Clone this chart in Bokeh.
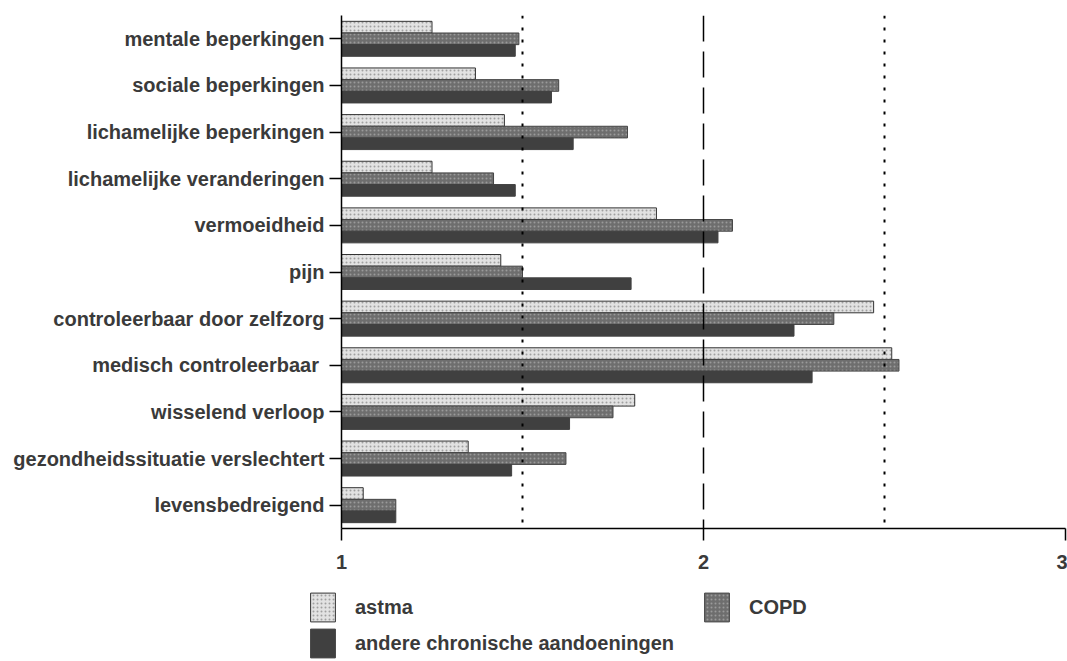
from bokeh.plotting import figure
from bokeh.layouts import column
from bokeh.models import FactorRange, Range1d, Span, Legend, LegendItem, FixedTicker, ColumnDataSource
from bokeh.transform import dodge
from bokeh.embed import file_html
from bokeh.resources import INLINE

categories = [
    "mentale beperkingen",
    "sociale beperkingen",
    "lichamelijke beperkingen",
    "lichamelijke veranderingen",
    "vermoeidheid",
    "pijn",
    "controleerbaar door zelfzorg",
    "medisch controleerbaar ",
    "wisselend verloop",
    "gezondheidssituatie verslechtert",
    "levensbedreigend",
]
astma = [1.25, 1.37, 1.45, 1.25, 1.87, 1.44, 2.47, 2.52, 1.81, 1.35, 1.06]
copd = [1.49, 1.60, 1.79, 1.42, 2.08, 1.50, 2.36, 2.54, 1.75, 1.62, 1.15]
andere = [1.48, 1.58, 1.64, 1.48, 2.04, 1.80, 2.25, 2.30, 1.63, 1.47, 1.15]
series_names = ["astma", "COPD", "andere chronische aandoeningen"]
x_ticks = [1, 2, 3]
ref_dotted = [1.5, 2.5]
ref_dashed = [2]

FONT = "Liberation Sans Narrow, Liberation Sans, Arial, sans-serif"
TXT = "#3a3a3a"

STY = {
    "astma": dict(fill_color="#e2e2e2", line_color="#333333", line_width=1,
                  hatch_pattern="dot", hatch_color="#a0a0a0", hatch_scale=4, hatch_weight=1),
    "COPD": dict(fill_color="#6e6e6e", line_color="#444444", line_width=1,
                 hatch_pattern="dot", hatch_color="#9a9a9a", hatch_scale=4, hatch_weight=1),
    "andere": dict(fill_color="#404040", line_color="#404040", line_width=1),
}

src = ColumnDataSource(dict(cat=categories, astma=astma, copd=copd, andere=andere,
                            base=[1] * len(categories)))

p = figure(width=1067, height=585, output_backend="svg", toolbar_location=None,
           y_range=FactorRange(factors=list(reversed(categories)), range_padding=0),
           x_range=Range1d(1, 3),
           min_border_left=341, min_border_right=2, min_border_top=15, min_border_bottom=57)
p.frame_align = False
p.outline_line_color = None
p.xgrid.visible = False
p.ygrid.visible = False
p.background_fill_color = "white"
p.border_fill_color = "white"

p.hbar(y=dodge("cat", 0.25, range=p.y_range), left="base", right="astma", height=0.25,
       source=src, **STY["astma"])
p.hbar(y=dodge("cat", 0.0, range=p.y_range), left="base", right="copd", height=0.25,
       source=src, **STY["COPD"])
p.hbar(y=dodge("cat", -0.25, range=p.y_range), left="base", right="andere", height=0.25,
       source=src, **STY["andere"])

for v in ref_dotted:
    p.add_layout(Span(location=v, dimension="height", line_color="black", line_width=2,
                      line_dash="3 9"))
for v in ref_dashed:
    p.add_layout(Span(location=v, dimension="height", line_color="black", line_width=1.5,
                      line_dash="26 10"))

for ax in (p.xaxis[0], p.yaxis[0]):
    ax.axis_line_color = "black"
    ax.axis_line_width = 1.5
    ax.major_tick_line_color = "black"
    ax.major_tick_line_width = 1.5
    ax.minor_tick_line_color = None
    ax.major_tick_in = 0
    ax.major_label_text_font = FONT
    ax.major_label_text_font_style = "bold"
    ax.major_label_text_font_size = "20px"
    ax.major_label_text_color = TXT

p.xaxis.ticker = FixedTicker(ticks=x_ticks)
p.xaxis.major_tick_out = 12
p.xaxis.major_label_standoff = 14
p.yaxis.major_tick_out = 12
p.yaxis.major_label_standoff = 5

# legend strip (its own small figure, frame covering the whole strip)
q = figure(width=1067, height=76, output_backend="svg", toolbar_location=None,
           x_range=Range1d(0, 1), y_range=Range1d(0, 1),
           min_border=0, min_border_left=0, min_border_right=0, min_border_top=0, min_border_bottom=0)
q.frame_align = False
q.axis.visible = False
q.grid.visible = False
q.outline_line_color = None
q.border_fill_color = "white"
q.background_fill_color = "white"
# swatch renderers: one bar each, placed outside the visible range (only used by the legend)
off = dict(y=[-5], left=[0], right=[0.1])
ra = q.hbar(height=0.1, source=ColumnDataSource(off), **STY["astma"])
rc = q.hbar(height=0.1, source=ColumnDataSource(off), **STY["COPD"])
rn = q.hbar(height=0.1, source=ColumnDataSource(off), **STY["andere"])

legend = Legend(items=[LegendItem(label=series_names[0], renderers=[ra]),
                       LegendItem(label=series_names[1], renderers=[rc]),
                       LegendItem(label=series_names[2], renderers=[rn])],
                location=(307, 0), orientation="horizontal", ncols=2,
                padding=0, margin=0, spacing=0, glyph_width=31, glyph_height=36,
                label_standoff=17, label_width=346,
                label_text_font=FONT, label_text_font_style="bold",
                label_text_font_size="20px", label_text_color=TXT,
                border_line_color=None, background_fill_alpha=0)
q.add_layout(legend, "center")

layout = column(p, q, spacing=0)
open("out.html", "w").write(file_html(layout, INLINE))
